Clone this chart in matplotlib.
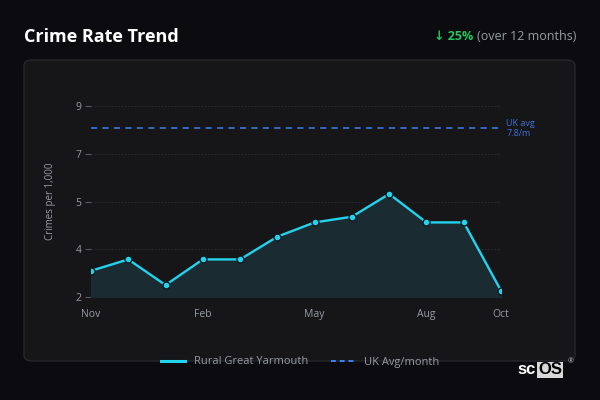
import numpy as np
import matplotlib.pyplot as plt
from matplotlib.patches import FancyBboxPatch
from matplotlib.lines import Line2D
from matplotlib.ticker import FuncFormatter

plt.rcParams['font.family'] = ['Open Sans', 'DejaVu Sans']

# monthly crime rate, Nov -> Oct
months = ['Nov', 'Dec', 'Jan', 'Feb', 'Mar', 'Apr', 'May', 'Jun', 'Jul', 'Aug', 'Sep', 'Oct']
rates = [2.8, 3.2, 2.3, 3.2, 3.2, 4.0, 4.5, 4.7, 5.5, 4.5, 4.5, 2.1]
uk_avg = 7.8
shown_months = ['Nov', 'Feb', 'May', 'Aug', 'Oct']

bg = '#0c0c10'
card = '#161619'
cyan = '#22d3ee'
blue = '#3b82f6'
grey = '#979ba3'

fig = plt.figure(figsize=(6, 4), dpi=100, facecolor=bg)

# card behind the chart
fig.patches.append(FancyBboxPatch((24 / 600, 1 - 361 / 400), 551 / 600, 301 / 400,
                                  boxstyle='round,pad=0,rounding_size=0.014',
                                  transform=fig.transFigure, facecolor=card,
                                  edgecolor='#2c2c31', linewidth=0.8, zorder=-5))

ax = fig.add_axes([91 / 600, 1 - 296.7 / 400, 410 / 600, 190.4 / 400])
ax.set_facecolor('none')
ax.set_zorder(2)

x = np.arange(len(months))
ymin = min(rates) * 0.9
ymax = uk_avg * 1.1

ax.fill_between(x, rates, ymin, color='#1b2d33', alpha=0.95, zorder=1)
ax.plot(x, rates, color=cyan, linewidth=1.7, marker='o', markersize=5,
        markerfacecolor=cyan, markeredgecolor='#0e1a20', markeredgewidth=1.0,
        zorder=3)
ax.plot([x[0], x[-1]], [uk_avg, uk_avg], color=blue, linewidth=1.1,
        dashes=(4, 3.5), zorder=2)
ax.text(x[-1] + 0.14, uk_avg, 'UK avg\n%.1f/m' % uk_avg, color='#3f70d8',
        fontsize=6.5, va='center', ha='left', linespacing=1.05)

ax.set_xlim(x[0], x[-1])
ax.set_ylim(ymin, ymax)
ax.set_xticks([months.index(m) for m in shown_months])
ax.set_xticklabels(shown_months)
ax.set_yticks(np.linspace(ymin, ymax, 5))
ax.yaxis.set_major_formatter(FuncFormatter(lambda v, p: '%.0f' % v))
ax.tick_params(axis='x', length=0, pad=9, colors=grey, labelsize=7.5)
ax.tick_params(axis='y', length=4, width=0.8, pad=3, colors='#55585e',
               labelcolor=grey, labelsize=7.5)
ax.grid(axis='y', color='#2e2e33', linestyle=(0, (2, 2)), linewidth=0.6)
ax.set_axisbelow(True)
for s in ax.spines.values():
    s.set_visible(False)
ax.set_ylabel('Crimes per 1,000', color=grey, fontsize=7, labelpad=14)

handles = [Line2D([], [], color=cyan, linewidth=2.2),
           Line2D([], [], color=blue, linewidth=1.4, dashes=(2.5, 2))]
leg = fig.legend(handles, ['Rural Great Yarmouth', 'UK Avg/month'], loc='center',
                 bbox_to_anchor=(0.5, 1 - 362 / 400), ncol=2, frameon=False,
                 fontsize=8, handlelength=2.2, columnspacing=2.0, handletextpad=0.8)
for t in leg.get_texts():
    t.set_color(grey)

fig.text(24 / 600, 1 - 37 / 400, 'Crime Rate Trend', color='white', fontsize=13,
         fontweight='bold', va='center', ha='left')
t1 = fig.text(576 / 600, 1 - 37 / 400, '(over 12 months)', color=grey, fontsize=9,
              va='center', ha='right')
fig.canvas.draw()
bb = t1.get_window_extent()
fig.text(bb.x0 - 3, bb.y0 + bb.height / 2, '\u2193 25%', color='#22c55e', fontsize=9,
         fontweight='bold', va='center', ha='right', transform=None)

# logo
fig.text(517 / 600, 1 - 370 / 400, 'sc', color='white', fontsize=12, fontweight='bold',
         va='center', ha='left', family='Liberation Sans')
fig.text(538 / 600, 1 - 370 / 400, 'OS', color='black', fontsize=12, fontweight='bold',
         va='center', ha='left', family='Liberation Sans',
         bbox=dict(boxstyle='square,pad=0.05', facecolor='#d8d8d8', edgecolor='none'))
fig.text(571 / 600, 1 - 362 / 400, '\u00ae', color='#bbbbbb', fontsize=5,
         va='center', ha='center')

fig.savefig('out.png', dpi=100, facecolor=bg)
